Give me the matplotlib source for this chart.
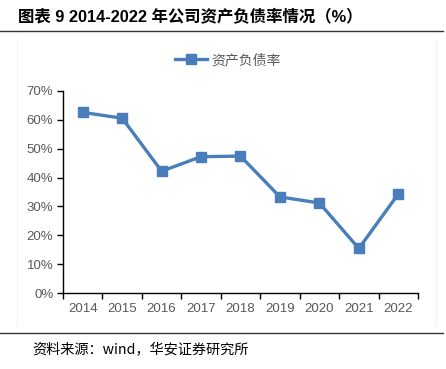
import numpy as np
import matplotlib.pyplot as plt
from matplotlib.lines import Line2D
from matplotlib.ticker import FixedLocator, PercentFormatter

plt.rcParams['font.family'] = ['Liberation Sans', 'Noto Sans CJK SC', 'DejaVu Sans']

years = ['2014', '2015', '2016', '2017', '2018', '2019', '2020', '2021', '2022']
debt_ratio = [62.5, 60.5, 42.2, 47.2, 47.4, 33.3, 31.2, 15.5, 34.3]
yticks = [0, 10, 20, 30, 40, 50, 60, 70]

title = '图表 9 2014-2022 年公司资产负债率情况（%）'
series_name = '资产负债率'
source = '资料来源：wind，华安证券研究所'

blue = '#4a7ebb'
grey = '#595959'
cjk = ['Noto Sans CJK SC', 'DejaVu Sans']

fig = plt.figure(figsize=(4.46, 3.69), dpi=100)

# header / footer text and rules
fig.text(18 / 446, 1 - 17 / 369, title, fontsize=11.8, fontweight='bold',
         family=['Liberation Sans', 'Noto Sans CJK SC'], va='center', ha='left')
fig.add_artist(Line2D([0, 443 / 446], [1 - 31 / 369] * 2, color='#333333', lw=1.0))
fig.add_artist(Line2D([0, 443 / 446], [1 - 333 / 369] * 2, color='#333333', lw=1.0))
fig.text(32 / 446, 1 - 350 / 369, source, fontsize=10.2, family=cjk, va='center', ha='left')

# faint chart frame
for xf in [17 / 446, 436 / 446]:
    fig.add_artist(Line2D([xf, xf], [1 - 325 / 369, 1 - 40 / 369], color='#f2f2f2', lw=0.8))

ax = fig.add_axes([63 / 446, 75.7 / 369, 355 / 446, 202.6 / 369])
x = np.arange(len(years))
ax.plot(x, debt_ratio, color=blue, lw=2.4, marker='s', markersize=6.5,
        markerfacecolor=blue, markeredgecolor=blue, label=series_name)

ax.set_xlim(-0.5, len(years) - 0.5)
ax.set_ylim(0, 70)
ax.set_xticks(x)
ax.set_xticklabels(years)
ax.xaxis.set_minor_locator(FixedLocator(np.arange(-0.5, len(years), 1.0)))
ax.tick_params(axis='x', which='major', length=0, pad=7, labelsize=9.5, labelcolor=grey)
ax.tick_params(axis='x', which='minor', length=4, width=1, direction='out', color='black')
ax.set_yticks(yticks)
ax.yaxis.set_major_formatter(PercentFormatter(decimals=0))
ax.tick_params(axis='y', length=4, width=1, direction='out', pad=3, labelsize=9.5, labelcolor=grey)

for side in ['top', 'right']:
    ax.spines[side].set_visible(False)
for side in ['left', 'bottom']:
    ax.spines[side].set_linewidth(1.0)
    ax.spines[side].set_color('black')

leg = fig.legend(loc='center', bbox_to_anchor=(228 / 446, 1 - 60 / 369), frameon=False,
                 handlelength=2.3, handletextpad=0.3, prop={'family': cjk, 'size': 10})
for t in leg.get_texts():
    t.set_color(grey)

fig.savefig('out.png', dpi=100)
